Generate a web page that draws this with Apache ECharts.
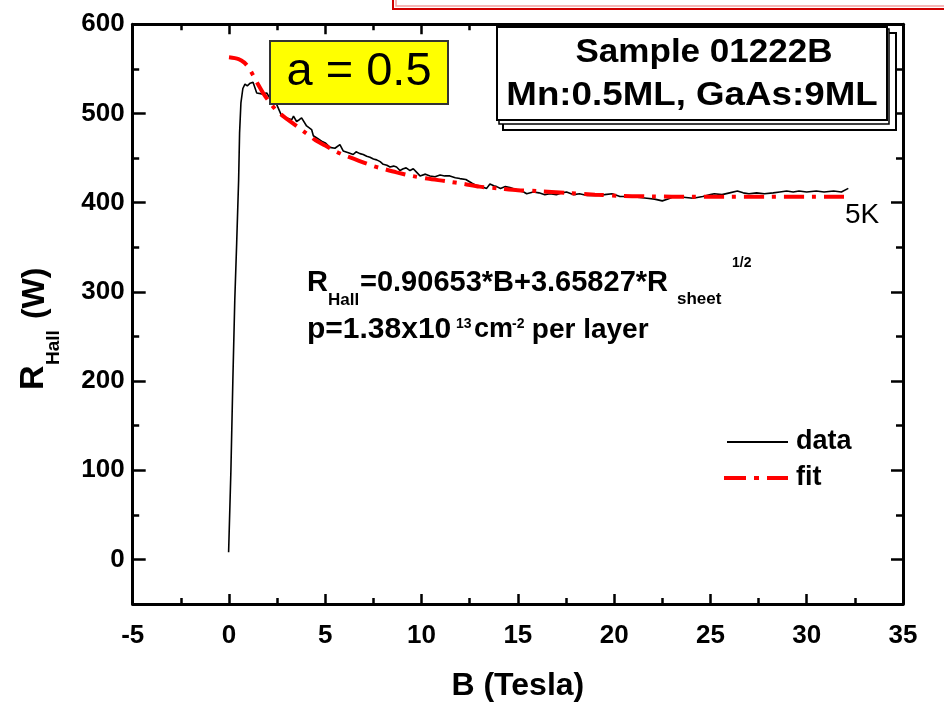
<!DOCTYPE html>
<html><head><meta charset="utf-8">
<script src="https://cdn.jsdelivr.net/npm/echarts@6/dist/echarts.min.js"></script>
<style>html,body{margin:0;padding:0;background:#fff}#c{width:944px;height:707px}</style>
</head><body><div id="c"></div>
<script>
// ---- data ----
const dataB = [-0.02,0.1,0.2,0.3,0.4,0.5,0.55,0.62,0.72,0.83,0.95,1.1,1.25,1.44,1.7,1.96,2.13,2.3,2.48,2.74,3.0,3.26,3.35,3.51,3.65,3.77,3.86,4.03,4.29,4.38,4.6,4.81,5.0,5.24,5.5,5.76,5.93,6.2,6.45,6.6,6.8,6.97,7.15,7.32,7.5,7.67,7.85,8.01,8.2,8.36,8.55,8.7,8.88,9.05,9.2,9.4,9.57,9.75,9.92,10.2,10.44,10.7,10.96,11.2,11.47,11.75,11.99,12.3,12.6,12.86,13.1,13.38,13.55,13.75,13.9,14.1,14.35,14.59,14.85,15.1,15.3,15.46,15.8,16.1,16.4,16.67,17.0,17.3,17.53,17.9,18.2,18.6,19.07,19.5,19.9,20.3,20.8,21.2,21.7,22.1,22.5,22.8,23.1,23.6,24.1,24.6,25.0,25.2,25.6,26.0,26.4,26.7,27.0,27.4,27.8,28.26,28.6,28.96,29.3,29.6,30.0,30.5,30.9,31.4,31.8,32.16];
const dataR = [8,100,200,290,355,425,478,512,528,533,531,534,535,523,522,523,517,514,510,497,495,493,497,491,493,495,497,486,482,475,472,469,467,462,461,465,458,456,454,457,455,454,452,451,449,448,446,443,442,440,441,440,436,438,439,436,438,434,430,432,430,429,431,430,430,428,427,426,422,419,418,416,421,419,418,416,418,417,415,413,412,410,412,411,409,410,409,411,412,409,410,408,408,409,410,407,407,406,405,404,402,404,407,406,405,407,409,410,409,411,413,411,410,411,410,411,412,413,412,413,412,413,412,413,412,416];
const fitB = [0.0,0.5,0.8,1.0,1.25,1.5,1.8,2.1,2.4,2.7,3.0,3.5,4.0,4.5,5.0,5.5,6.0,6.5,7.0,7.5,8.0,8.7,9.5,10.3,11.3,12.2,13.0,14.0,15.0,16.0,17.5,19.0,20.5,22.0,24.0,26.0,28.0,30.0,32.0];
const fitR = [563,561,557,552,543,533,522,513,505,499,494,486,478,470,464,458,453,449,445,441,438,434,430,427,424,421,418,416,414,413,411,409,407.5,407,406.5,406.5,406.5,406.5,406.5];
const yMajorTicks = [0,100,200,300,400,500,600];
const yMinorTicks = [50,150,250,350,450,550];
const seriesNames = ['data','fit'];

const F = '"Liberation Sans", Arial, sans-serif';
const dataPts = dataB.map((b,i)=>[b,dataR[i]]);
const fitPts = fitB.map((b,i)=>[b,fitR[i]]);

const axisLine = {show:true, onZero:false, lineStyle:{color:'#000', width:3}};
function xAx(pos, showLabel){
  return {type:'value', position:pos, min:-5, max:35, interval:5,
    axisLine: axisLine,
    axisTick:{show:true, inside:true, length:10, lineStyle:{color:'#000', width:2.5}},
    minorTick:{show:true, splitNumber:2, length:6, lineStyle:{color:'#000', width:2.5}},
    splitLine:{show:false}, minorSplitLine:{show:false},
    axisLabel:{show:showLabel, margin:19, color:'#000', fontSize:26, fontWeight:'bold', fontFamily:F},
    name: showLabel ? 'B (Tesla)' : '', nameLocation:'middle', nameGap:66,
    nameTextStyle:{color:'#000', fontSize:32, fontWeight:'bold', fontFamily:F}
  };
}
function yAx(pos, vals, len, showLine, showLabel){
  return {type:'value', position:pos, min:-50, max:600,
    axisLine: showLine ? axisLine : {show:false, onZero:false},
    axisTick:{show:true, inside:true, length:len, customValues:vals, lineStyle:{color:'#000', width:2.5}},
    splitLine:{show:false},
    axisLabel:{show:showLabel, customValues:vals, margin:8, color:'#000', fontSize:26, fontWeight:'bold', fontFamily:F}
  };
}

const chart = echarts.init(document.getElementById('c'), null, {renderer:'canvas'});
const txt = (x,y,text,font,align)=>({type:'text', x:x, y:y, z:100, style:{text:text, font:font, fill:'#000', align:align||'left', verticalAlign:'middle'}});
const stxt = (x,y,text,font,sx)=>({type:'group', x:x, y:y, scaleX:sx, z:100, children:[{type:'text', x:0, y:0, z:100, style:{text:text, font:font, fill:'#000', align:'center', verticalAlign:'middle'}}]});
const B29 = 'bold 29px ' + F, B17 = 'bold 17px ' + F, B13 = 'bold 14px ' + F;

chart.setOption({
  animation:false,
  backgroundColor:'#fff',
  grid:{left:132.7, top:24.3, right:41, bottom:100, containLabel:false},
  xAxis:[xAx('bottom', true), xAx('top', false)],
  yAxis:[yAx('left', yMajorTicks, 13, true, true), yAx('left', yMinorTicks, 6.5, false, false),
         yAx('right', yMajorTicks, 12, true, false), yAx('right', yMinorTicks, 7, false, false)],
  series:[
    {name:seriesNames[0], type:'line', data:dataPts, showSymbol:false, symbol:'none', lineStyle:{color:'#000', width:1.6}, z:3},
    {name:seriesNames[1], type:'line', data:fitPts, showSymbol:false, symbol:'none', smooth:0.3, lineStyle:{color:'#ff0000', width:4, type:[20,8,4,8]}, z:4}
  ],
  graphic:[
    // red box partially visible at very top
    {type:'rect', shape:{x:393, y:-20, width:560, height:29}, style:{fill:'#fff', stroke:'#d00000', lineWidth:2}, z:90},
    {type:'rect', shape:{x:396, y:-20, width:560, height:26}, style:{fill:'none', stroke:'#f4a0a0', lineWidth:1.5}, z:90},
    // yellow box
    {type:'rect', shape:{x:270, y:41, width:178, height:63}, style:{fill:'#ffff00', stroke:'#333', lineWidth:2}, z:90},
    stxt(359, 72, 'a = 0.5', '47px ' + F, 1.0),
    // sample box with double shadow
    {type:'rect', shape:{x:503, y:33, width:393, height:97}, style:{fill:'#fff', stroke:'#000', lineWidth:2}, z:90},
    {type:'rect', shape:{x:499, y:29, width:390, height:95}, style:{fill:'#fff', stroke:'#000', lineWidth:1.5}, z:91},
    {type:'rect', shape:{x:497, y:27, width:390, height:93}, style:{fill:'#fff', stroke:'#000', lineWidth:2}, z:92},
    stxt(704, 53, 'Sample 01222B', 'bold 34px '+F, 1.03),
    stxt(692, 96, 'Mn:0.5ML, GaAs:9ML', 'bold 34px '+F, 1.08),
    // equation line 1
    txt(307, 293-10, 'R', B29),
    txt(328, 306-6, 'Hall', B17),
    txt(360, 293-10, '=0.90653*B+3.65827*R', B29),
    txt(677, 305-6, 'sheet', B17),
    txt(732, 268-5, '1/2', B13),
    // equation line 2
    txt(307, 340-10, 'p=1.38x10', 'bold 30px '+F),
    txt(456, 329-5, '13', B13),
    txt(474, 340-10, 'cm', 'bold 27px '+F),
    txt(512, 329-5, '-2', B13),
    txt(524, 340-10, ' per layer', 'bold 28px '+F),
    // 5K
    txt(845, 215, '5K', '28px '+F),
    // legend
    {type:'line', shape:{x1:727, y1:442, x2:788, y2:442}, style:{stroke:'#000', lineWidth:1.8}, z:100},
    txt(796, 442, seriesNames[0], 'bold 27px '+F),
    {type:'line', shape:{x1:724, y1:478, x2:788, y2:478}, style:{stroke:'#ff0000', lineWidth:4, lineDash:[22,8,5,8]}, z:100},
    txt(796, 478, seriesNames[1], 'bold 27px '+F),
    // y axis title (rotated)
    {type:'group', x:46, y:390, rotation:Math.PI/2, z:100, children:[
      {type:'text', x:0, y:-12, style:{text:'R', font:'bold 34px '+F, fill:'#000', align:'left', verticalAlign:'middle'}},
      {type:'text', x:25, y:8, style:{text:'Hall', font:'bold 19px '+F, fill:'#000', align:'left', verticalAlign:'middle'}},
      {type:'text', x:62, y:-11, style:{text:' (W)', font:'bold 32px '+F, fill:'#000', align:'left', verticalAlign:'middle'}}
    ]}
  ]
});
</script></body></html>
